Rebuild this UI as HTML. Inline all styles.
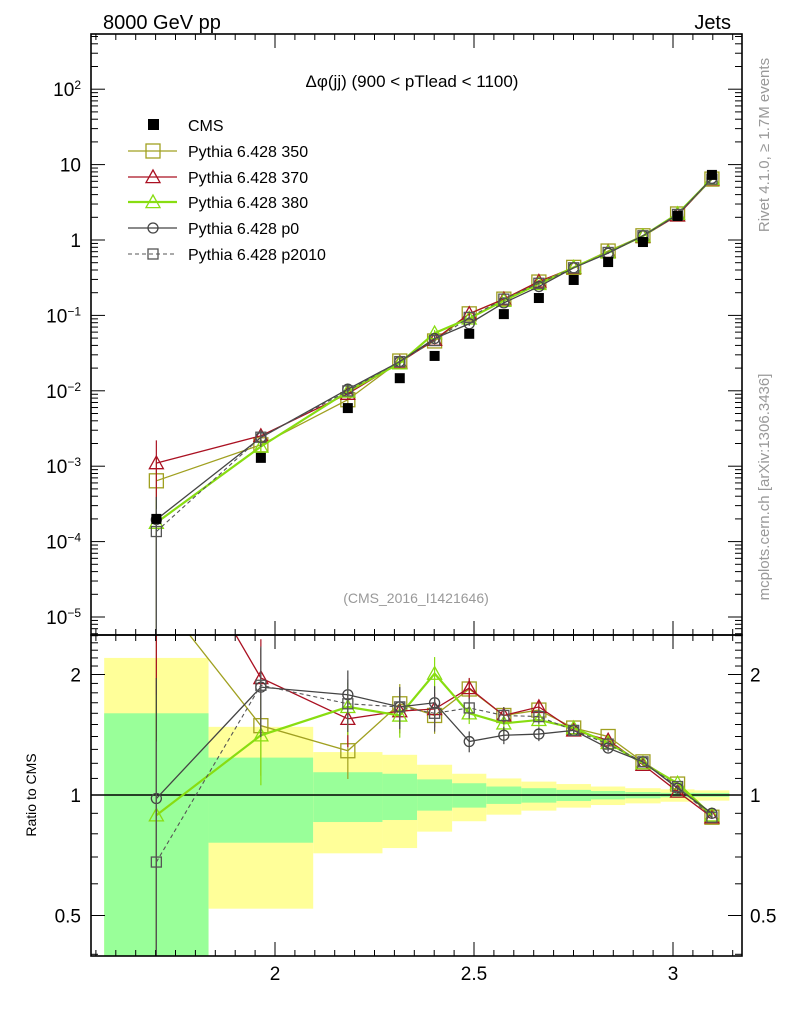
<!DOCTYPE html>
<html><head><meta charset="utf-8">
<style>
html,body{margin:0;padding:0;background:#fff;overflow:hidden;width:786px;height:1024px;}
svg{display:block;font-family:"Liberation Sans",sans-serif;}
</style></head>
<body>
<svg id="chart" width="786" height="1024" viewBox="0 0 786 1024" overflow="hidden" xmlns="http://www.w3.org/2000/svg">
<text x="103" y="29" font-size="20">8000 GeV pp</text>
<text x="731" y="29" font-size="20" text-anchor="end">Jets</text>
<text x="412" y="87" font-size="17" text-anchor="middle">Δφ(jj) (900 &lt; pTlead &lt;  1100)</text>
<text x="416" y="603" font-size="14" fill="#999" text-anchor="middle">(CMS_2016_I1421646)</text>
<text transform="translate(769,145) rotate(-90)" font-size="15" fill="#999" text-anchor="middle">Rivet 4.1.0, ≥ 1.7M events</text>
<text transform="translate(769,487) rotate(-90)" font-size="15" fill="#999" text-anchor="middle">mcplots.cern.ch [arXiv:1306.3436]</text>
<text transform="translate(36,795) rotate(-90)" font-size="14" text-anchor="middle">Ratio to CMS</text>
<g id="bands"></g>
<g id="main"></g>
<g id="ratio"></g>
<g id="axes"></g>
<g id="legend"></g>
</svg>
<script>
const binEdges = [1.5708,1.833,2.096,2.270,2.357,2.445,2.531,2.619,2.707,2.794,2.880,2.969,3.054,3.1416];
const cmsValues = [2.0e-4,1.29e-3,5.9e-3,0.0147,0.029,0.057,0.104,0.17,0.295,0.51,0.94,2.08,7.3];
const ratio350 = [3.2,1.49,1.29,1.69,1.58,1.84,1.58,1.63,1.47,1.40,1.21,1.065,0.88];
const ratio370 = [5.5,1.96,1.55,1.62,1.64,1.85,1.58,1.66,1.45,1.37,1.19,1.02,0.88];
const ratio380 = [0.89,1.41,1.66,1.58,2.01,1.60,1.51,1.54,1.47,1.35,1.20,1.07,0.89];
const ratioP0 = [0.98,1.86,1.78,1.66,1.70,1.36,1.41,1.42,1.45,1.31,1.21,1.04,0.90];
const ratioP2010 = [0.68,1.88,1.69,1.66,1.60,1.65,1.58,1.57,1.45,1.34,1.21,1.05,0.88];
const mcRelErr = [1.0,0.25,0.15,0.12,0.10,0.06,0.05,0.04,0.02,0.02,0.015,0.01,0.01];
const yellowHi = [2.2,1.48,1.28,1.26,1.19,1.13,1.10,1.08,1.065,1.05,1.04,1.033,1.027];
const yellowLo = [0.3,0.52,0.715,0.737,0.81,0.86,0.893,0.914,0.93,0.944,0.953,0.962,0.968];
const greenHi = [1.6,1.24,1.14,1.13,1.094,1.07,1.05,1.04,1.03,1.023,1.017,1.013,1.012];
const greenLo = [0.3,0.76,0.856,0.866,0.914,0.93,0.95,0.957,0.966,0.975,0.981,0.987,0.99];
const xTickLabels = ["2","2.5","3"];
const xTickValues = [2,2.5,3];
const mainYTickValues = [1e-5,1e-4,1e-3,1e-2,1e-1,1,10,100];
const mainYTickLabels = ["10<tspan dy='-7' font-size='12'>−5</tspan>","10<tspan dy='-7' font-size='12'>−4</tspan>","10<tspan dy='-7' font-size='12'>−3</tspan>","10<tspan dy='-7' font-size='12'>−2</tspan>","10<tspan dy='-7' font-size='12'>−1</tspan>","1","10","10<tspan dy='-7' font-size='12'>2</tspan>"];
const ratioTickValues = [0.5,1,2];
const ratioTickLabels = ["0.5","1","2"];

const NS="http://www.w3.org/2000/svg";
const L=91,R=742,MT=34,MB=635,RT=635,RB=956;
function X(v){return 275+(v-2)*398;}
function YM(v){return 240-75.4*Math.log10(v);}
function YR(v){return 795-120.5*Math.log2(v);}
function mk(tag,attrs,parent){const e=document.createElementNS(NS,tag);for(const k in attrs)e.setAttribute(k,attrs[k]);parent.appendChild(e);return e;}
const clamp=(v,a,b)=>Math.max(a,Math.min(b,v));
const centers=[];for(let i=0;i<13;i++)centers.push((binEdges[i]+binEdges[i+1])/2);

const svg=document.getElementById('chart');
const defs=mk('defs',{},svg);
const c1=mk('clipPath',{id:'cm'},defs);mk('rect',{x:L,y:MT,width:R-L,height:MB-MT},c1);
const c2=mk('clipPath',{id:'cr'},defs);mk('rect',{x:L,y:RT,width:R-L,height:RB-RT},c2);

const bands=document.getElementById('bands');bands.setAttribute('clip-path','url(#cr)');
for(let i=0;i<13;i++){
 const x0=X(binEdges[i]),x1=X(binEdges[i+1]);
 const y=mk('rect',{x:x0,y:YR(yellowHi[i]),width:x1-x0,height:YR(yellowLo[i])-YR(yellowHi[i]),fill:'#ffff99'},bands);
 
 
 const g=mk('rect',{x:x0,y:YR(greenHi[i]),width:x1-x0,height:YR(greenLo[i])-YR(greenHi[i]),fill:'#99ff99'},bands);
 
 
}
mk('line',{x1:L,x2:R,y1:YR(1),y2:YR(1),stroke:'#000','stroke-width':1.5},bands);

const series=[
 {name:'350',r:ratio350,color:'#a0a020',marker:'sq',w:1.3,dash:'',size:7},
 {name:'370',r:ratio370,color:'#aa1122',marker:'tri',w:1.3,dash:'',size:7},
 {name:'380',r:ratio380,color:'#88dd11',marker:'tri',w:2.2,dash:'',size:7},
 {name:'p0',r:ratioP0,color:'#444444',marker:'circ',w:1.3,dash:'',size:5},
 {name:'p2010',r:ratioP2010,color:'#555555',marker:'sq',w:1.1,dash:'4,3',size:5}
];
function marker(g,type,x,y,s,color){
 if(type==='sq')return mk('rect',{x:x-s,y:y-s,width:2*s,height:2*s,fill:'none',stroke:color,'stroke-width':1.3},g);
 if(type==='tri')return mk('polygon',{points:`${x},${y-s} ${x-s},${y+s*0.8} ${x+s},${y+s*0.8}`,fill:'none',stroke:color,'stroke-width':1.3},g);
 return mk('circle',{cx:x,cy:y,r:s,fill:'none',stroke:color,'stroke-width':1.3},g);
}
const main=document.getElementById('main');main.setAttribute('clip-path','url(#cm)');
const ratio=document.getElementById('ratio');ratio.setAttribute('clip-path','url(#cr)');
series.forEach(s=>{
 const gm=mk('g',{},main);
 
 
 const gr=mk('g',{},ratio);
 
 
 const pm=[],pr=[];
 for(let i=0;i<13;i++){
  const v=cmsValues[i]*s.r[i];const x=X(centers[i]);
  pm.push(x+','+YM(v));pr.push(x+','+YR(s.r[i]));
  const e=mcRelErr[i];
  mk('line',{x1:x,x2:x,y1:clamp(YM(v*(1+e)),0,1000),y2:clamp(YM(Math.max(v*(1-e),1e-9)),0,1000),stroke:s.color,'stroke-width':1.2},gm);
  mk('line',{x1:x,x2:x,y1:clamp(YR(s.r[i]*(1+e)),0,1000),y2:clamp(YR(Math.max(s.r[i]*(1-e),0.01)),0,1000),stroke:s.color,'stroke-width':1.2},gr);
 }
 mk('polyline',{points:pm.join(' '),fill:'none',stroke:s.color,'stroke-width':s.w,'stroke-dasharray':s.dash},gm);
 mk('polyline',{points:pr.join(' '),fill:'none',stroke:s.color,'stroke-width':s.w,'stroke-dasharray':s.dash},gr);
 for(let i=0;i<13;i++){
  const x=X(centers[i]);
  const m1=marker(gm,s.marker,x,YM(cmsValues[i]*s.r[i]),s.size,s.color);
  
  
  const m2=marker(gr,s.marker,x,YR(s.r[i]),s.size,s.color);
  
  
 }
});
const gc=mk('g',{},main);


for(let i=0;i<13;i++){
 const x=X(centers[i]),y=YM(cmsValues[i]);
 const r=mk('rect',{x:x-5,y:y-5,width:10,height:10,fill:'#000'},gc);
 
 
}

const ax=document.getElementById('axes');
[[MT,MB],[RT,RB]].forEach(([t,b])=>mk('rect',{x:L,y:t,width:R-L,height:b-t,fill:'none',stroke:'#000','stroke-width':1.6},ax));
for(let v=1.55;v<=3.17;v+=0.05){
 const x=X(v);if(x<L||x>R)continue;
 const maj=xTickValues.some(t=>Math.abs(t-v)<1e-6);const len=maj?14:6;
 [MT,RT].forEach(t=>mk('line',{x1:x,x2:x,y1:t,y2:t+len,stroke:'#000','stroke-width':1},ax));
 [MB,RB].forEach(b=>mk('line',{x1:x,x2:x,y1:b,y2:b-len,stroke:'#000','stroke-width':1},ax));
}
xTickValues.forEach((v,i)=>{const t=mk('text',{x:X(v),y:980,'font-size':19,'text-anchor':'middle'},ax);t.textContent=xTickLabels[i];
 
 });
for(let d=-6;d<=3;d++)for(let k=1;k<10;k++){
 const v=k*Math.pow(10,d),y=YM(v);if(y<MT||y>MB)continue;
 const len=k===1?14:7;
 mk('line',{x1:L,x2:L+len,y1:y,y2:y,stroke:'#000','stroke-width':1},ax);
 mk('line',{x1:R,x2:R-len,y1:y,y2:y,stroke:'#000','stroke-width':1},ax);
}
mainYTickValues.forEach((v,i)=>{const y=YM(v);if(y<MT||y>MB)return;
 const t=mk('text',{x:81,y:y+7,'font-size':19,'text-anchor':'end'},ax);t.innerHTML=mainYTickLabels[i];
 
 });
for(let v=0.4;v<=2.6;v+=0.1){
 const y=YR(v);if(y<RT||y>RB)continue;
 const maj=ratioTickValues.some(t=>Math.abs(t-v)<1e-6);const len=maj?14:7;
 mk('line',{x1:L,x2:L+len,y1:y,y2:y,stroke:'#000','stroke-width':1},ax);
 mk('line',{x1:R,x2:R-len,y1:y,y2:y,stroke:'#000','stroke-width':1},ax);
}
ratioTickValues.forEach((v,i)=>{const y=YR(v);
 const t=mk('text',{x:81,y:y+7,'font-size':19,'text-anchor':'end'},ax);t.textContent=ratioTickLabels[i];
 
 
 const t2=mk('text',{x:750,y:y+7,'font-size':19},ax);t2.textContent=ratioTickLabels[i];
 
 });

const lg=document.getElementById('legend');
const rows=[125,151,177,202,228,254];
const names=['CMS','Pythia 6.428 350','Pythia 6.428 370','Pythia 6.428 380','Pythia 6.428 p0','Pythia 6.428 p2010'];
rows.forEach((y,i)=>{
 const g=mk('g',{},lg);
 
 
 if(i===0){mk('rect',{x:148,y:y-6,width:11,height:11,fill:'#000'},g);}
 else{const s=series[i-1];
  mk('line',{x1:128,x2:177,y1:y,y2:y,stroke:s.color,'stroke-width':s.w,'stroke-dasharray':s.dash},g);
  marker(g,s.marker,153,y,s.size,s.color);}
 const t=mk('text',{x:188,y:y+6,'font-size':16},g);t.textContent=names[i];
});
</script>
</body></html>
